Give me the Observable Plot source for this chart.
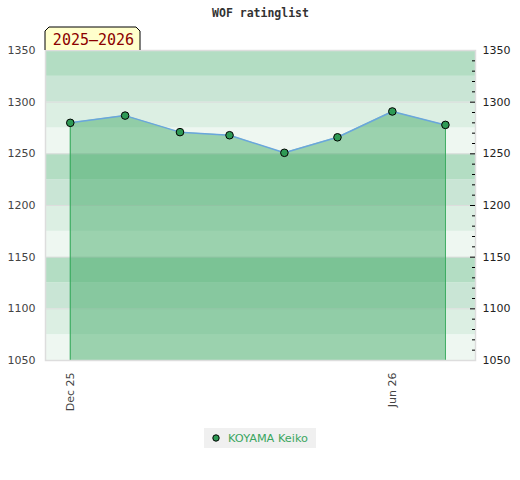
<!DOCTYPE html>
<html>
<head>
<meta charset="utf-8">
<script src="https://cdn.jsdelivr.net/npm/d3@7"></script>
<script src="https://cdn.jsdelivr.net/npm/@observablehq/plot@0.6"></script>
<style>
  body { margin: 0; background: #fff; font-family: "DejaVu Sans", sans-serif; }
  #legend { width: 520px; text-align: center; margin-top: 7px; }
  #legend .box { display: inline-flex; align-items: center; background: #f0f0f0; padding: 0 8px 0 8px; height: 20px; font-size: 11.3px; color: #3aa65f; }
  #legend svg { margin-right: 8px; }
</style>
</head>
<body>
<div id="chart"></div>
<div id="legend"><span class="box"><svg width="8" height="8"><circle cx="4" cy="4" r="3.2" fill="#2e9a55" stroke="#000" stroke-width="1"/></svg>KOYAMA Keiko</span></div>
<script>
const titleText = "WOF ratinglist";
const seasonLabel = "2025\u20132026";
const playerName = "KOYAMA Keiko";
const months = ["2025-12-01","2026-01-01","2026-02-01","2026-03-01","2026-04-01","2026-05-01","2026-06-01","2026-07-01"];
const ratings = [1280, 1287, 1271, 1268, 1251, 1266, 1291, 1278];
const xDomain = ["2025-11-17", "2026-07-18"];
const yDomain = [1050, 1350];
const majorTicks = [1050, 1100, 1150, 1200, 1250, 1300, 1350];
const minorTicks = d3.range(1060, 1350, 10).filter(v => v % 50 !== 0);
const xTicks = ["2025-12-01", "2026-06-01"];
const xTickLabels = ["Dec 25", "Jun 26"];
const bandEdges = d3.range(1050, 1350, 25);
const bandShades = ["#eef7f1", "#dcefe3", "#c9e5d5", "#b3ddc3"];

const parse = d3.utcParse("%Y-%m-%d");
const data = months.map((m, i) => ({date: parse(m), rating: ratings[i]}));
const ends = [data[0], data[data.length - 1]];
const bands = bandEdges.map((lo, i) => ({lo, hi: lo + 25, shade: bandShades[i % 4]}));
const tickDates = xTicks.map(parse);
const labelFor = new Map(tickDates.map((d, i) => [+d, xTickLabels[i]]));
const xMax = parse(xDomain[1]);

const labelBox = (index, scales, values, dims) => {
  const x0 = dims.marginLeft, y1 = dims.marginTop, w = 95, h = 23, c = 4;
  const g = d3.create("svg:g");
  g.append("path")
    .attr("d", `M${x0},${y1} L${x0},${y1 - h + c} L${x0 + c},${y1 - h} L${x0 + w - c},${y1 - h} L${x0 + w},${y1 - h + c} L${x0 + w},${y1}`)
    .attr("fill", "#ffffcc").attr("stroke", "#000").attr("stroke-width", 1);
  return g.node();
};

const chart = Plot.plot({
  width: 520,
  height: 420,
  marginTop: 50,
  marginBottom: 60,
  marginLeft: 45,
  marginRight: 45,
  style: {fontFamily: "DejaVu Sans, sans-serif", background: "#fff"},
  x: {type: "utc", domain: xDomain.map(parse)},
  y: {domain: yDomain},
  color: {type: "identity"},
  marks: [
    Plot.rect(bands, {y1: "lo", y2: "hi", fill: "shade"}),
    Plot.gridY(majorTicks, {stroke: "#dddddd", strokeOpacity: 1}),
    Plot.areaY(data, {x: "date", y1: yDomain[0], y2: "rating", fill: "#39a65f", fillOpacity: 0.46}),
    Plot.ruleX(ends, {x: "date", y1: yDomain[0], y2: "rating", stroke: "#34a85a", strokeWidth: 1}),
    Plot.lineY(data, {x: "date", y: "rating", stroke: "#6aa6dc", strokeWidth: 1.5}),
    Plot.dot(data, {x: "date", y: "rating", r: 3.8, fill: "#2e9a55", stroke: "#000", strokeWidth: 1}),
    Plot.frame({stroke: "#dddddd", strokeWidth: 1.5}),
    Plot.ruleY(minorTicks, {y: d => d, x1: xMax, x2: xMax, insetLeft: -3, stroke: "#000"}),
    Plot.ruleY(majorTicks.slice(1, -1), {y: d => d, x1: xMax, x2: xMax, insetLeft: -5, stroke: "#000"}),
    Plot.axisY({anchor: "left", ticks: majorTicks, tickSize: 0, tickPadding: 10, tickFormat: d3.format("d"), fontSize: 11, color: "#444", label: null}),
    Plot.axisY({anchor: "right", ticks: majorTicks, tickSize: 0, tickPadding: 7, tickFormat: d3.format("d"), fontSize: 11, color: "#222", label: null}),
    Plot.axisX({ticks: tickDates, tickSize: 0, tickPadding: 12, tickRotate: -90, tickFormat: d => labelFor.get(+d), fontSize: 11, color: "#444", label: null}),
    Plot.text([titleText], {frameAnchor: "top", dy: -37, lineAnchor: "middle", fontFamily: "DejaVu Sans Mono, monospace", fontWeight: "bold", fontSize: 11.5, fill: "#333"}),
    labelBox,
    Plot.text([seasonLabel], {frameAnchor: "top-left", dx: 48, dy: -10, lineAnchor: "middle", textAnchor: "middle", fontFamily: "DejaVu Sans Mono, monospace", fontSize: 15, fill: "#8b0000"})
  ]
});
document.getElementById("chart").appendChild(chart);
</script>
</body>
</html>
